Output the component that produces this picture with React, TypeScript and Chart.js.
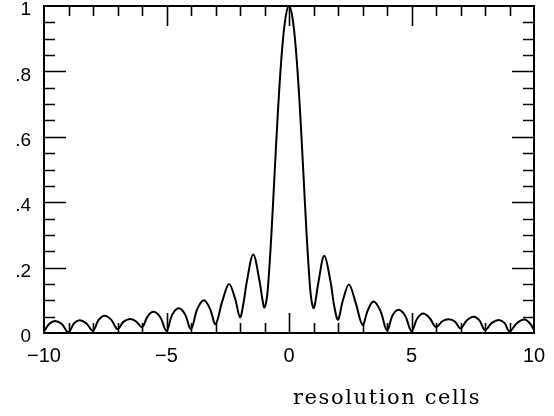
import React, { useEffect, useRef } from "react";
import { Chart, registerables } from "chart.js";

Chart.register(...registerables);

// Sample positions (resolution cells) and read response values
const xs: number[] = [
  -10.0, -9.78, -9.55, -9.28, -9.0, -8.78, -8.55, -8.28, -8.0, -7.77, -7.53, -7.26,
  -7.0, -6.76, -6.5, -6.25, -6.0, -5.77, -5.53, -5.26, -5.0, -4.76, -4.5, -4.25,
  -4.0, -3.75, -3.48, -3.23, -3.0, -2.73, -2.45, -2.2, -2.0, -1.86, -1.72, -1.46,
  -1.2, -1.08, -1.0, -0.9, -0.82, -0.72, -0.6, -0.45, -0.3, -0.15, 0.0, 0.15,
  0.3, 0.45, 0.6, 0.72, 0.82, 0.9, 1.0, 1.08, 1.2, 1.44, 1.7, 1.84,
  2.0, 2.2, 2.45, 2.73, 3.0, 3.22, 3.45, 3.73, 4.0, 4.23, 4.47, 4.74,
  5.0, 5.24, 5.48, 5.74, 6.0, 6.26, 6.52, 6.77, 7.0, 7.26, 7.54, 7.78,
  8.0, 8.28, 8.57, 8.8, 9.0, 9.3, 9.6, 9.83, 10.0,
];
const ys: number[] = [
  0.005, 0.028, 0.037, 0.028, 0.002, 0.029, 0.039, 0.03, 0.007, 0.04, 0.053, 0.041,
  0.012, 0.034, 0.043, 0.036, 0.018, 0.051, 0.065, 0.049, 0.007, 0.057, 0.076, 0.058,
  0.012, 0.072, 0.1, 0.075, 0.027, 0.095, 0.15, 0.105, 0.048, 0.09, 0.158, 0.24,
  0.158, 0.1, 0.078, 0.11, 0.18, 0.3, 0.47, 0.68, 0.85, 0.96, 1.0, 0.96,
  0.85, 0.68, 0.47, 0.3, 0.18, 0.11, 0.076, 0.097, 0.155, 0.236, 0.155, 0.085,
  0.041, 0.1, 0.148, 0.09, 0.025, 0.07, 0.096, 0.068, 0.008, 0.054, 0.071, 0.053,
  0.006, 0.045, 0.06, 0.046, 0.018, 0.036, 0.042, 0.035, 0.014, 0.039, 0.05, 0.038,
  0.009, 0.031, 0.04, 0.03, 0.005, 0.03, 0.041, 0.03, 0.01,
];

const xTickLabels: string[] = ["\u221210", "\u22125", "0", "5", "10"];
const yTickLabels: string[] = ["0", ".2", ".4", ".6", ".8", "1"];
const xTickMarks: number[] = [-9, -8, -7, -6, -5, -4, -3, -2, -1, 0, 1, 2, 3, 4, 5, 6, 7, 8, 9];
const xMajorMarks: number[] = [-5, 0, 5];
const yTickMarks: number[] = [0.05, 0.1, 0.15, 0.2, 0.25, 0.3, 0.35, 0.4, 0.45, 0.5, 0.55, 0.6, 0.65, 0.7, 0.75, 0.8, 0.85, 0.9, 0.95];
const yMajorMarks: number[] = [0.2, 0.4, 0.6, 0.8];
const xTitle = "resolution cells";

const framePlugin = {
  id: "frameTicks",
  afterDraw(chart: any) {
    const { ctx, chartArea: a, scales } = chart;
    const x = scales.x;
    const y = scales.y;
    ctx.save();
    ctx.strokeStyle = "#000";
    ctx.lineWidth = 2;
    ctx.strokeRect(a.left, a.top, a.right - a.left, a.bottom - a.top);
    ctx.lineWidth = 1.6;
    ctx.beginPath();
    xTickMarks.forEach((v) => {
      const px = Math.round(x.getPixelForValue(v)) + 0.5;
      const len = xMajorMarks.includes(v) ? 20 : 10;
      ctx.moveTo(px, a.bottom);
      ctx.lineTo(px, a.bottom - len);
      ctx.moveTo(px, a.top);
      ctx.lineTo(px, a.top + len);
    });
    yTickMarks.forEach((v) => {
      const py = Math.round(y.getPixelForValue(v)) + 0.5;
      const len = yMajorMarks.some((m) => Math.abs(m - v) < 1e-6) ? 22 : 11;
      ctx.moveTo(a.left, py);
      ctx.lineTo(a.left + len, py);
      ctx.moveTo(a.right, py);
      ctx.lineTo(a.right - len, py);
    });
    ctx.stroke();
    ctx.fillStyle = "#000";
    ctx.font = "21px 'DejaVu Serif'";
    try {
      (ctx as any).letterSpacing = "1.6px";
    } catch (e) {}
    ctx.textAlign = "center";
    ctx.textBaseline = "alphabetic";
    ctx.fillText(xTitle, x.getPixelForValue(4), 404);
    ctx.restore();
  },
};

export default function App() {
  const ref = useRef<HTMLCanvasElement | null>(null);
  useEffect(() => {
    if (!ref.current) return;
    const points = xs.map((xv, i) => ({ x: xv, y: ys[i] }));
    const chart = new Chart(ref.current, {
      type: "line",
      data: {
        datasets: [
          {
            data: points,
            borderColor: "#000",
            borderWidth: 2,
            pointRadius: 0,
            fill: false,
            tension: 0.35,
          },
        ],
      },
      options: {
        animation: false,
        responsive: false,
        maintainAspectRatio: false,
        layout: { padding: { top: 6, right: 20, left: 0, bottom: 0 } },
        plugins: { legend: { display: false }, tooltip: { enabled: false } },
        scales: {
          x: {
            type: "linear",
            min: -10,
            max: 10,
            afterFit: (s: any) => {
              s.height = 83;
              s.paddingLeft = 0;
              s.paddingRight = 0;
            },
            grid: { display: false, drawTicks: false },
            border: { display: false },
            ticks: {
              stepSize: 5,
              padding: 11,
              color: "#000",
              maxRotation: 0,
              font: { family: "'Liberation Sans'", size: 20 },
              callback: (_v: any, i: number) => xTickLabels[i],
            },
          },
          y: {
            min: 0,
            max: 1,
            afterFit: (s: any) => {
              s.width = 44;
              s.paddingTop = 0;
              s.paddingBottom = 0;
            },
            grid: { display: false, drawTicks: false },
            border: { display: false },
            ticks: {
              stepSize: 0.2,
              padding: 13,
              labelOffset: 4,
              color: "#000",
              font: { family: "'Liberation Sans'", size: 19 },
              callback: (_v: any, i: number) => yTickLabels[i],
            },
          },
        },
      },
      plugins: [framePlugin],
    });
    return () => chart.destroy();
  }, []);
  return (
    <div style={{ position: "fixed", left: 0, top: 0, width: 554, height: 416, background: "#fff" }}>
      <canvas ref={ref} width={554} height={416} style={{ display: "block" }} />
    </div>
  );
}
